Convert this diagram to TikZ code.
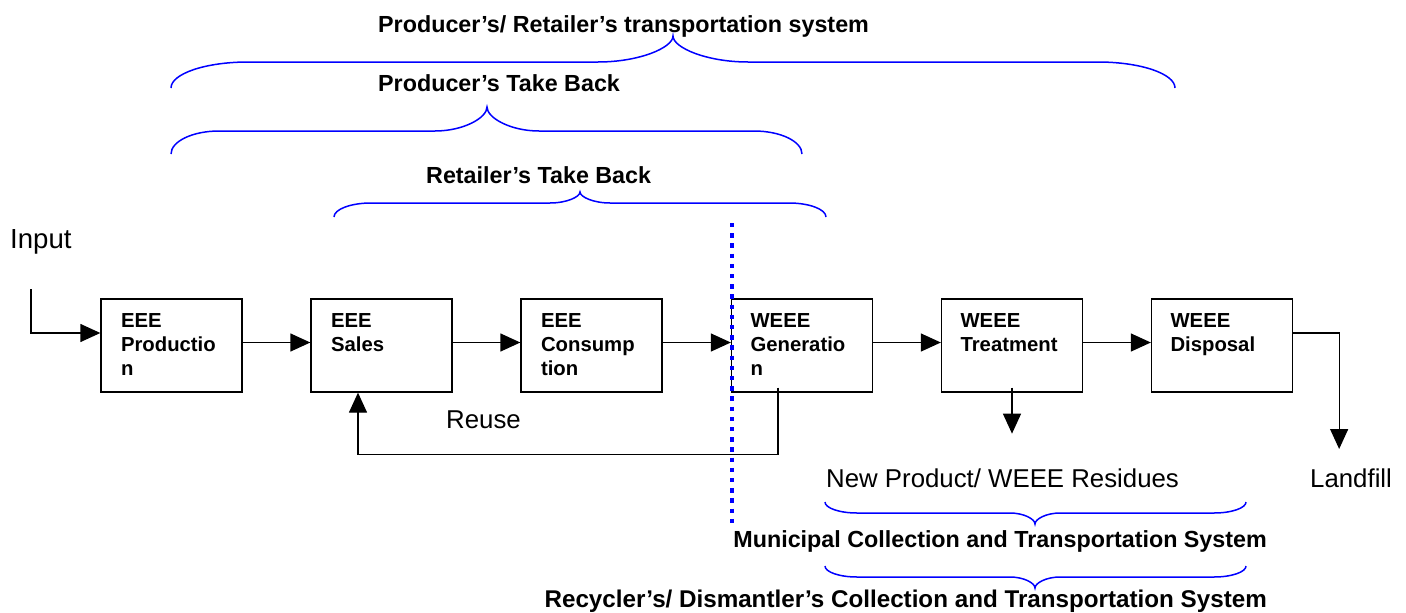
\documentclass[tikz,border=0pt]{standalone}
\usepackage{fontspec}
\setmainfont{Liberation Sans}
\usetikzlibrary{arrows.meta}
\newcommand{\mybrace}[8]{%
  \draw[bracestyle] (#1,#4) .. controls (#1,{#5+(#4-#5)*0.45}) and ({#1+#7*0.45},#5) .. ({#1+#7},#5)
    -- ({#3-#8},#5) .. controls ({#3-#8*0.45},#5) and (#3,{#5+(#6-#5)*0.55}) .. (#3,#6)
    .. controls (#3,{#5+(#6-#5)*0.55}) and ({#3+#8*0.45},#5) .. ({#3+#8},#5)
    -- ({#2-#7},#5) .. controls ({#2-#7*0.45},#5) and (#2,{#5+(#4-#5)*0.45}) .. (#2,#4);}
\begin{document}
\begin{tikzpicture}[x=1pt,y=-1pt,
  stepbox/.style={draw=black, line width=1.3pt, minimum width=141pt, minimum height=93pt, inner sep=0pt},
  boxtext/.style={inner sep=0pt, anchor=north west, align=left, font=\fontsize{20.3}{24}\selectfont\bfseries},
  reg/.style={inner sep=0pt, font=\fontsize{25.8}{30}\selectfont},
  lab/.style={inner sep=0pt, font=\fontsize{23.3}{28}\selectfont\bfseries},
  arr/.style={draw=black, line width=1.3pt, -{Triangle[length=20pt,width=18pt]}},
  bracestyle/.style={draw=blue, line width=1.5pt},
  dotline/.style={draw=blue, line width=4.3pt, dash pattern=on 4.3pt off 5.9pt}]
\useasboundingbox (0,0) rectangle (1406,613);

% boxes
\node[stepbox] (b1) at (171.5,345.5) {};
\node[stepbox] (b2) at (381.5,345.5) {};
\node[stepbox] (b3) at (591.5,345.5) {};
\node[stepbox] (b4) at (802,345.5) {};
\node[stepbox] (b5) at (1012,345.5) {};
\node[stepbox] (b6) at (1222,345.5) {};

\node[boxtext] (t1b) at ([xshift=20.5pt,yshift=-14.5pt]b1.north west) {EEE\\Productio\\n};
\node[boxtext] (t2b) at ([xshift=20.5pt,yshift=-14.5pt]b2.north west) {EEE\\Sales};
\node[boxtext] (t3b) at ([xshift=20.5pt,yshift=-14.5pt]b3.north west) {EEE\\Consump\\tion};
\node[boxtext] (t4b) at ([xshift=19.5pt,yshift=-14.5pt]b4.north west) {WEEE\\Generatio\\n};
\node[boxtext] (t5b) at ([xshift=19.5pt,yshift=-14.5pt]b5.north west) {WEEE\\Treatment};
\node[boxtext] (t6b) at ([xshift=19.5pt,yshift=-14.5pt]b6.north west) {WEEE\\Disposal};

% plain texts
\node[reg, anchor=base west, font=\fontsize{27.6}{32}\selectfont] (input) at (10,248) {Input};
\node[reg, anchor=base west] (reuse) at (446,428) {Reuse};
\node[reg, anchor=base west] (newprod) at (826,487) {New Product/ WEEE Residues};
\node[reg, anchor=base west] (landfill) at (1310,487) {Landfill};

% bold labels
\node[lab, anchor=base west] (l1) at (378,32) {Producer’s/ Retailer’s transportation system};
\node[lab, anchor=base west] (l2) at (378,91) {Producer’s Take Back};
\node[lab, anchor=base west] (l3) at (426,183) {Retailer’s Take Back};
\node[lab, anchor=base east] (l4) at (1267,547) {Municipal Collection and Transportation System};
\node[lab, anchor=base east, font=\fontsize{24.2}{28}\selectfont\bfseries] (l5) at (1267,607) {Recycler’s/ Dismantler’s Collection and Transportation System};

% connectors
\coordinate (inp) at (31,289);
\draw[arr] (inp) |- ([yshift=12.5pt]b1.west);
\draw[arr] ([yshift=3pt]b1.east) -- ([yshift=3pt]b2.west);
\draw[arr] ([yshift=3pt]b2.east) -- ([yshift=3pt]b3.west);
\draw[arr] ([yshift=3pt]b3.east) -- ([yshift=3pt]b4.west);
\draw[arr] ([yshift=3pt]b4.east) -- ([yshift=3pt]b5.west);
\draw[arr] ([yshift=3pt]b5.east) -- ([yshift=3pt]b6.west);
\draw[arr] ([xshift=-24pt,yshift=5pt]b4.south) -- ++(0,67) -| ([xshift=-23.5pt]b2.south);
\draw[arr] ([yshift=5pt]b5.south) -- ++(0,46);
\draw[arr] ([yshift=12.5pt]b6.east) -- ++(46,0) -- ++(0,116);

% dotted divider
\coordinate (dtop) at (732,223);
\coordinate (dbot) at (732,525);
\draw[dotline] (dtop) -- (dbot);

% braces
\mybrace{171}{1175}{673}{88}{62}{36}{77}{75}
\mybrace{171}{802}{487}{154}{131}{107}{48}{52}
\mybrace{334}{826}{580}{217}{203}{192}{37}{30}
\mybrace{825}{1246}{1035}{502}{513}{524}{32}{25}
\mybrace{825}{1246}{1035}{566}{577}{588}{32}{25}
\end{tikzpicture}
\end{document}
